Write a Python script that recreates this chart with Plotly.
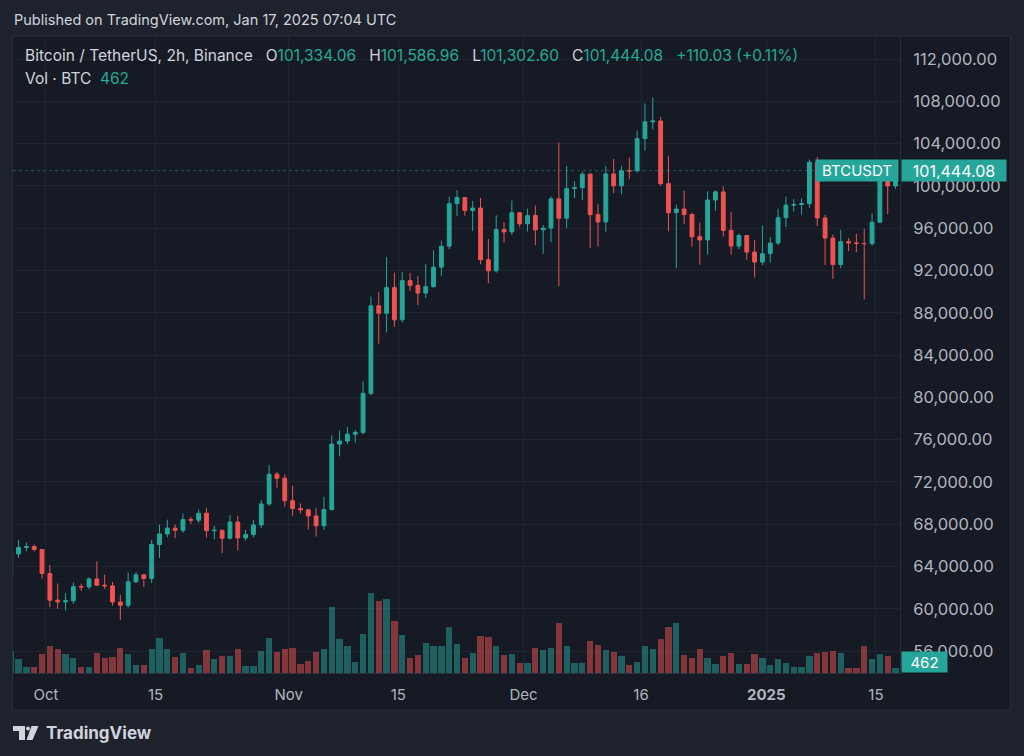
import pandas as pd
import plotly.graph_objects as go

# ---------------- data (daily candles) ----------------
start_date = "2024-09-26"
opens = [63143, 65181, 65790, 65887, 65605,
         63328, 60805, 60649, 60752, 62086, 62059, 62819, 62224, 62160, 60636, 60327, 62540, 63206, 62870, 66083, 67074,
         67620, 67421, 68428, 68380, 69031, 67377, 67426, 66668, 68199, 66698, 67015, 67930, 69907, 72720, 72339,
         70216, 69482, 69358, 68775, 67850, 69375, 75571, 75857, 76510, 76677, 80370, 88648, 87953, 90375, 87325,
         91032, 90587, 89855, 90465, 92310, 94286, 98317, 98892, 97672, 97901, 93010, 91965, 95863, 95643, 97460,
         96407, 97185, 95840, 96002, 98768, 96947, 99740, 99831, 101109, 97276, 96593, 101125, 100004, 101424, 101420,
         104463, 106058, 106133, 100204, 97461, 97805, 97291, 95186, 94881, 98663, 99430, 95792, 94300, 95300, 93739, 92793,
         93577, 94591, 96984, 98174, 98236, 98314, 102235, 96954, 95060, 92552, 94726, 94599, 94545, 94536, 96560,
         100497, 99987]
highs = [65840, 66498, 66260, 66076, 65615,
         64130, 62380, 61470, 62485, 62370, 62960, 64478, 63200, 62543, 61320, 63417, 63480, 63285, 66500, 67950, 68424,
         67939, 69000, 68693, 69400, 69520, 67836, 67470, 68850, 68800, 67454, 68380, 70270, 73620, 72961, 72700,
         71632, 69950, 69400, 69500, 70577, 76400, 76850, 77199, 76900, 81500, 89530, 89940, 93265, 91790, 91850,
         91779, 91449, 92594, 93905, 94831, 98984, 99588, 98906, 98564, 98871, 94973, 97208, 96564, 98619, 97463,
         97836, 98130, 96305, 99000, 104088, 101898, 100439, 101351, 101215, 98270, 101895, 102540, 101895, 102650,
         105250, 107793, 108353, 106524, 102800, 98233, 99540, 97448, 96538, 99487, 99569, 99963, 97544, 95525, 95340,
         94903, 96250,
         95150, 97839, 98976, 98734, 98813, 102482, 102724, 97258, 95382, 95836, 95050, 95450, 95940, 97371, 100681,
         100866, 101800]
lows = [62670, 64820, 65420, 65430, 62850,
        60150, 59980, 59830, 60460, 61680, 61830, 62130, 61860, 60300, 58946, 60086, 62460, 62050, 62430, 64800, 66750,
        66666, 67180, 68010, 68100, 66750, 66570, 65260, 66560, 65520, 66439, 66750, 67620, 69730, 71436, 69685,
        68779, 69020, 67478, 66835, 67458, 69298, 74418, 75555, 75714, 76492, 80216, 85072, 86127, 86668, 87073,
        90056, 88722, 89376, 90370, 91500, 94000, 97122, 97190, 95734, 92600, 90791, 91792, 94640, 95364, 96092,
        95693, 94395, 93578, 94660, 90500, 95981, 98844, 98657, 94150, 94256, 95658, 99311, 99205, 100610,
        101237, 103333, 105321, 100000, 95700, 92232, 96398, 94250, 92520, 93515, 97632, 95199, 93500, 94015, 93009,
        91317, 92500,
        92743, 94392, 96100, 97562, 97271, 97926, 96181, 92500, 91203, 92206, 93831, 93711, 89256, 94346, 96500,
        97335, 99700]
closes = [65181, 65790, 65887, 65605, 63328,
          60805, 60649, 60752, 62086, 62059, 62819, 62224, 62160, 60636, 60327, 62540, 63206, 62870, 66083, 67074, 67620,
          67421, 68428, 68380, 69031, 67377, 67426, 66668, 68199, 66698, 67015, 67930, 69907, 72720, 72339, 70216,
          69482, 69358, 68775, 67850, 69375, 75571, 75857, 76510, 76677, 80370, 88648, 87953, 90375, 87325, 91032,
          90587, 89855, 90465, 92310, 94286, 98317, 98892, 97672, 97901, 93010, 91965, 95863, 95643, 97460, 96407,
          97185, 95840, 96002, 98768, 96947, 99740, 99831, 101109, 97276, 96593, 101125, 100004, 101424, 101420,
          104463, 106058, 106133, 100204, 97461, 97805, 97291, 95186, 94881, 98663, 99430, 95792, 94300, 95300, 93739,
          92793, 93577,
          94591, 96984, 98174, 98236, 98314, 102235, 96954, 95060, 92552, 94726, 94599, 94545, 94536, 96560, 100497,
          99987, 101444.08]
volumes = [34000, 22000, 9000, 9500, 30000,
           43000, 38000, 30000, 23000, 9000, 10000, 32000, 23000, 25000, 39000, 30000, 13000, 13000, 38000, 55000, 38000,
           25000, 31000, 8000, 13000, 36000, 22000, 26000, 26000, 38000, 11000, 11000, 34000, 55000, 33000, 38000,
           40000, 14000, 19000, 33000, 37000, 104000, 54000, 43000, 17000, 61000, 125000, 113000, 116000, 81000, 59000,
           23000, 28000, 47000, 43000, 42000, 73000, 46000, 24000, 31000, 58000, 57000, 42000, 28000, 30000, 15000,
           16000, 40000, 36000, 40000, 79000, 42000, 15000, 15000, 50000, 44000, 36000, 33000, 26000, 13000,
           18000, 43000, 38000, 53000, 72000, 78000, 29000, 23000, 37000, 24000, 14000, 27000, 32000, 14000, 14000,
           30000, 24000,
           12000, 22000, 16000, 9000, 9000, 27000, 32000, 33000, 34000, 31000, 8000, 8000, 42000, 22000, 30000,
           27000, 8000]

tick_dates = ["2024-10-01", "2024-10-15", "2024-11-01", "2024-11-15", "2024-12-01",
              "2024-12-16", "2025-01-01", "2025-01-15"]
tick_labels = ["Oct", "15", "Nov", "15", "Dec", "16", "<b>2025</b>", "15"]
price_ticks = list(range(56000, 112001, 4000))

legend_ohlc = ["101,334.06", "101,586.96", "101,302.60", "101,444.08"]
legend_change = "+110.03 (+0.11%)"
last_vol_label = "462"

# ---------------- styling ----------------
W, H = 1024, 756
ML, MR, MT, MB = 13, 124, 36, 83
PW, PH = W - ML - MR, H - MT - MB
UP, DOWN = "#26a69a", "#ef5350"
UP_T, DOWN_T = "rgba(38,166,154,0.5)", "rgba(239,83,80,0.5)"
TXT = "#d1d4dc"
AX_TXT = "#b2b5be"
TEAL_TXT = "#22ab94"
OUTER = "#1e222d"
PANEL = "#161a25"
BORDER = "#2a2e39"
GRID = "rgba(42,46,57,0.5)"
FONT = "Inter"
SP = "&nbsp;&nbsp;&nbsp;"


def px(x):
    return (x - ML) / PW


def py(y):
    return (H - MB - y) / PH


dates = pd.date_range(start_date, periods=len(closes), freq="D") + pd.Timedelta(hours=12)
vol_colors = [UP_T if c >= o else DOWN_T for o, c in zip(opens, closes)]

fig = go.Figure()
fig.add_trace(go.Bar(
    x=dates, y=volumes, marker=dict(color=vol_colors, line=dict(width=0)),
    width=0.8 * 86400000, yaxis="y2", hoverinfo="skip", showlegend=False,
))
fig.add_trace(go.Candlestick(
    x=dates, open=opens, high=highs, low=lows, close=closes,
    increasing=dict(line=dict(color=UP, width=1), fillcolor=UP),
    decreasing=dict(line=dict(color=DOWN, width=1), fillcolor=DOWN),
    whiskerwidth=0, showlegend=False,
))

last_close = closes[-1]

shapes = [
    dict(type="rect", xref="paper", yref="paper", x0=px(12.5), x1=px(1010.5), y0=py(710), y1=py(36),
         fillcolor=PANEL, line=dict(color=BORDER, width=1), layer="below"),
    dict(type="line", xref="paper", yref="y", x0=0, x1=1, y0=last_close, y1=last_close,
         line=dict(color="rgba(34,171,148,0.45)", width=1, dash="dot")),
    # TradingView logo
    dict(type="rect", xref="paper", yref="paper", x0=px(13), x1=px(25), y0=py(731), y1=py(726),
         fillcolor=TXT, line=dict(width=0)),
    dict(type="rect", xref="paper", yref="paper", x0=px(19), x1=px(25), y0=py(740), y1=py(726),
         fillcolor=TXT, line=dict(width=0)),
    dict(type="circle", xref="paper", yref="paper", x0=px(26), x1=px(30), y0=py(730.5), y1=py(726.5),
         fillcolor=TXT, line=dict(width=0)),
    dict(type="path", xref="paper", yref="paper",
         path=f"M {px(31.5)},{py(726)} L {px(38.5)},{py(726)} L {px(32.5)},{py(740)} L {px(26.5)},{py(740)} Z",
         fillcolor=TXT, line=dict(width=0)),
]

legend1 = (f"Bitcoin / TetherUS, 2h, Binance{SP}"
           f"O<span style='color:{TEAL_TXT}'>{legend_ohlc[0]}</span>{SP}"
           f"H<span style='color:{TEAL_TXT}'>{legend_ohlc[1]}</span>{SP}"
           f"L<span style='color:{TEAL_TXT}'>{legend_ohlc[2]}</span>{SP}"
           f"C<span style='color:{TEAL_TXT}'>{legend_ohlc[3]}</span>{SP}"
           f"<span style='color:{TEAL_TXT}'>{legend_change}</span>")
legend2 = f"Vol · BTC&nbsp;&nbsp;<span style='color:{TEAL_TXT}'>{last_vol_label}</span>"

annotations = [
    dict(text="Published on TradingView.com, Jan 17, 2025 07:04 UTC", xref="paper", yref="paper",
         x=px(12), y=py(20), xanchor="left", yanchor="middle", showarrow=False,
         font=dict(family=FONT, size=14.5, color=TXT)),
    dict(text=legend1, xref="paper", yref="paper", x=px(23), y=py(56), xanchor="left", yanchor="middle",
         showarrow=False, font=dict(family=FONT, size=15.5, color=TXT)),
    dict(text=legend2, xref="paper", yref="paper", x=px(23), y=py(78), xanchor="left", yanchor="middle",
         showarrow=False, font=dict(family=FONT, size=15.5, color=TXT)),
    dict(text="BTCUSDT", xref="paper", yref="y", x=px(815), y=last_close, xanchor="left", yanchor="middle",
         showarrow=False, bgcolor=UP, width=78, height=17, borderpad=2,
         font=dict(family=FONT, size=15, color="#ffffff")),
    dict(text=f"{last_close:,.2f}", xref="paper", yref="y", x=px(901), y=last_close, xanchor="left",
         yanchor="middle", showarrow=False, bgcolor=UP, width=100, height=17, borderpad=2,
         font=dict(family=FONT, size=16, color="#ffffff")),
    dict(text=last_vol_label, xref="paper", yref="paper", x=px(901), y=py(662), xanchor="left",
         yanchor="middle", showarrow=False, bgcolor=UP, width=41, height=16, borderpad=2,
         font=dict(family=FONT, size=15, color="#ffffff")),
    dict(text="<b>TradingView</b>", xref="paper", yref="paper", x=px(44), y=py(733), xanchor="left",
         yanchor="middle", showarrow=False, font=dict(family=FONT, size=17, color=TXT)),
]

fig.update_layout(
    width=W, height=H,
    margin=dict(l=ML, r=MR, t=MT, b=MB),
    paper_bgcolor=OUTER, plot_bgcolor=PANEL,
    font=dict(family=FONT, color=AX_TXT),
    showlegend=False, bargap=0,
    shapes=shapes, annotations=annotations,
    xaxis=dict(
        type="date", range=["2024-09-26 19:00", "2025-01-18 01:40"],
        rangeslider=dict(visible=False),
        tickvals=tick_dates, ticktext=tick_labels, ticks="",
        tickfont=dict(family=FONT, size=15, color=AX_TXT), ticklabelstandoff=8,
        showgrid=True, gridcolor=GRID, gridwidth=1,
        showline=True, linecolor=BORDER, linewidth=1, zeroline=False,
    ),
    yaxis=dict(
        side="right", range=[53919, 114176],
        tickvals=price_ticks, ticktext=[f"{v:,.2f}" for v in price_ticks], ticks="",
        tickfont=dict(family=FONT, size=16.5, color=AX_TXT), ticklabelstandoff=9,
        showgrid=True, gridcolor=GRID, gridwidth=1,
        showline=True, linecolor=BORDER, linewidth=1, zeroline=False,
    ),
    yaxis2=dict(overlaying="y", range=[0, 1000000], visible=False, fixedrange=True),
)

fig.write_html("out.html", config={"displayModeBar": False},
               post_script="document.body.style.margin='0';document.body.style.background='#1e222d';")
